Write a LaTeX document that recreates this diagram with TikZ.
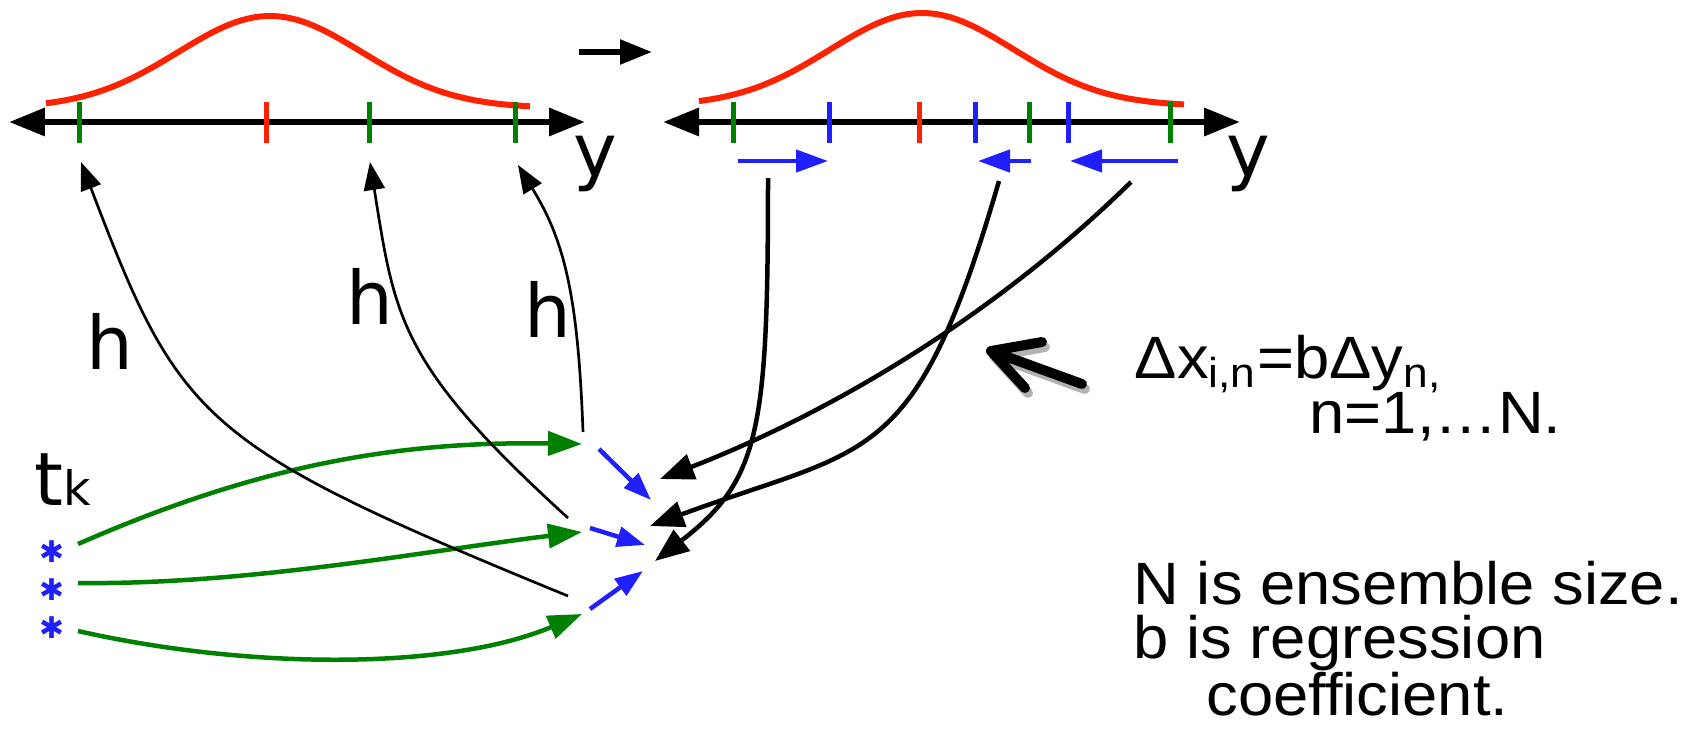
\documentclass[tikz,border=0pt]{standalone}
\usepackage{fontspec}
\setmainfont{Liberation Sans}[FakeStretch=1.06, Ligatures=NoCommon]
\newfontfamily\glyphfont{DejaVu Sans}
\usepackage{xcolor}
\definecolor{pdfred}{RGB}{255,34,0}
\definecolor{ensgreen}{RGB}{0,128,0}
\definecolor{incblue}{RGB}{32,32,255}
\usepackage{tikz}
\usetikzlibrary{arrows.meta, positioning, calc}

\tikzset{
  yaxis/.style={line width=0.65mm, {Triangle[length=3.6mm,width=2.7mm]}-{Triangle[length=3.6mm,width=2.7mm]}},
  tickmark/.style={line width=0.5mm},
  pdfline/.style={pdfred, line width=0.6mm},
  fwdarrow/.style={line width=0.27mm, -{Triangle[length=2.8mm,width=2.1mm]}},
  regarrow/.style={line width=0.45mm, -{Triangle[length=3.4mm,width=2.6mm]}},
  ensarrow/.style={ensgreen, line width=0.45mm, -{Triangle[length=3.4mm,width=2.4mm]}},
  incarrow/.style={incblue, line width=0.45mm, -{Triangle[length=3.2mm,width=2.2mm]}},
  axislabel/.style={font=\glyphfont\fontsize{21pt}{24pt}\selectfont, inner sep=0pt, anchor=base},
  notetext/.style={font=\fontsize{17pt}{20pt}\selectfont, inner sep=0pt, anchor=base west},
  member/.style={incblue, inner sep=0pt, font=\glyphfont\fontsize{8.5pt}{8.5pt}\selectfont},
}

\begin{document}
\begin{tikzpicture}[x=0.1mm, y=-0.1mm]
  \useasboundingbox (0,0) rectangle (1698,735);

  % prior: pdf, axis, ensemble ticks
  \draw[pdfline] plot[domain=46:530, samples=80] (\x, {108-92*exp(-0.5*((\x-270)/92)^2)});
  \draw[yaxis] (9,122) -- (585,122);
  \foreach \tx/\tc in {79/ensgreen, 266/pdfred, 369/ensgreen, 515/ensgreen}
    \draw[tickmark, \tc] (\tx,102) -- (\tx,143);
  \node[axislabel] (ylabA) at (595,176) {y};

  % update step
  \coordinate (stepA) at (579,52);
  \coordinate (stepB) at (652,52);
  \draw[line width=0.55mm, -{Triangle[length=3.2mm,width=2.4mm]}] (stepA) -- (stepB);

  % posterior: pdf, axis, ticks
  \draw[pdfline] plot[domain=699:1184, samples=80] (\x, {106-93*exp(-0.5*((\x-922)/92)^2)});
  \draw[yaxis] (663,122) -- (1240,122);
  \foreach \tx/\tc in {733/ensgreen, 829/incblue, 919/pdfred, 975/incblue, 1029/ensgreen, 1068/incblue, 1170/ensgreen}
    \draw[tickmark, \tc] (\tx,102) -- (\tx,143);
  \node[axislabel] (ylabB) at (1248,176) {y};

  % observation increments
  \coordinate (dyA0) at (738,161);  \coordinate (dyA1) at (828,161);
  \coordinate (dyB0) at (1031,161); \coordinate (dyB1) at (978,161);
  \coordinate (dyC0) at (1178,161); \coordinate (dyC1) at (1070,161);
  \draw[incarrow] (dyA0) -- (dyA1);
  \draw[incarrow] (dyB0) -- (dyB1);
  \draw[incarrow] (dyC0) -- (dyC1);

  % ensemble members at t_k
  \node[member] (m1) at (52,552) {✱};
  \node[member] (m2) at (52,590) {✱};
  \node[member] (m3) at (52,628) {✱};
  \node[axislabel, anchor=base west] (tk) at (34,505) {t{\fontsize{13.5pt}{13.5pt}\selectfont k}};

  \coordinate (xa1) at (582,444);
  \coordinate (xa2) at (582,532);
  \coordinate (xa3) at (582,614);
  \draw[ensarrow] ($(m1)+(26,-8)$) .. controls (261,464) and (400,441) .. (xa1);
  \draw[ensarrow] ($(m2)+(26,-7)$) .. controls (250,585) and (430,550) .. (xa2);
  \draw[ensarrow] ($(m3)+(26,3)$) .. controls (250,670) and (450,670) .. (xa3);

  % increments of state
  \coordinate (dx1) at (599,449); \coordinate (dx1e) at (651,500);
  \coordinate (dx2) at (590,528); \coordinate (dx2e) at (645,545);
  \coordinate (dx3) at (590,609); \coordinate (dx3e) at (643,571);
  \draw[incarrow, -{Triangle[length=2.8mm,width=2mm]}] (dx1) -- (dx1e);
  \draw[incarrow, -{Triangle[length=2.8mm,width=2mm]}] (dx2) -- (dx2e);
  \draw[incarrow, -{Triangle[length=2.8mm,width=2mm]}] (dx3) -- (dx3e);

  % forward operator h
  \coordinate (hs1) at (568,596); \coordinate (ht1) at (81,162);
  \coordinate (hs2) at (568,518); \coordinate (ht2) at (370,162);
  \coordinate (hs3) at (583,432); \coordinate (ht3) at (518,165);
  \draw[fwdarrow] (hs1) .. controls (200,445) and (180,422) .. (ht1);
  \draw[fwdarrow] (hs2) .. controls (400,365) and (395,320) .. (ht2);
  \draw[fwdarrow] (hs3) .. controls (578,294) and (564,240) .. (ht3);
  \node[axislabel] (hA) at (110,369) {h};
  \node[axislabel] (hB) at (370,324) {h};
  \node[axislabel] (hC) at (548,337) {h};

  % regression back onto the state
  \coordinate (rs1) at (768,178); \coordinate (rt1) at (655,561);
  \coordinate (rs2) at (999,181); \coordinate (rt2) at (650,526);
  \coordinate (rs3) at (1131,182); \coordinate (rt3) at (660,479);
  \draw[regarrow] (rs1) .. controls (768,430) and (760,480) .. (rt1);
  \draw[regarrow] (rs2) .. controls (915,470) and (870,445) .. (rt2);
  \draw[regarrow] (rs3) .. controls (975,335) and (800,425) .. (rt3);

  % pointer to the formula
  \coordinate (ptrTip) at (991,351);
  \coordinate (ptrTail) at (1082,384);
  \coordinate (ptrArmA) at (1042,342);
  \coordinate (ptrArmB) at (1025,388);
  \begin{scope}[line width=1mm, line cap=round, line join=round]
    \draw[black!30, transform canvas={shift={(0.3mm,-0.5mm)}}] (ptrTail) -- (ptrTip) (ptrArmA) -- (ptrTip) -- (ptrArmB);
    \draw (ptrTail) -- (ptrTip) (ptrArmA) -- (ptrTip) -- (ptrArmB);
  \end{scope}

  % formula and notes
  \node[notetext] (eqn) at (1134,378) {Δx\textsubscript{i,n}=bΔy\textsubscript{n,}};
  \node[notetext] (nrange) at (1309,433) {n=1,…N.};
  \node[notetext] (nsize) at (1133,604) {N is ensemble size.};
  \node[notetext] (breg) at (1133,658) {b is regression};
  \node[notetext] (bcoef) at (1206,715) {coefficient.};
\end{tikzpicture}
\end{document}
